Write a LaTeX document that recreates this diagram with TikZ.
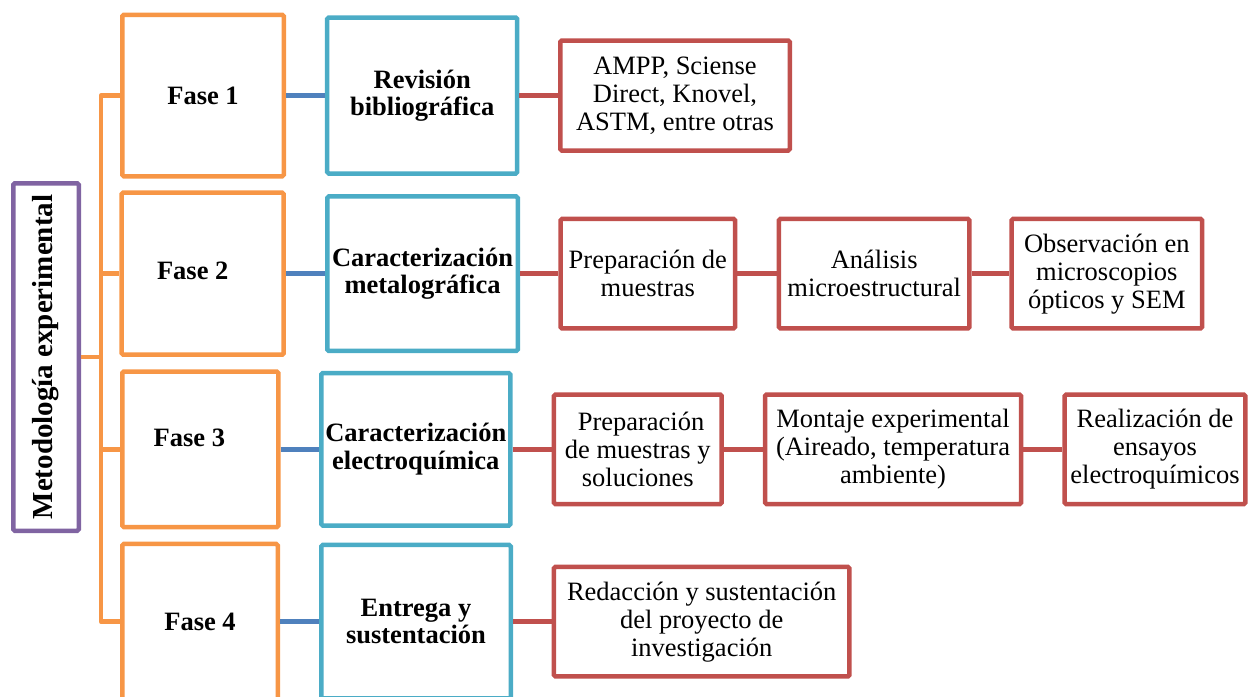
\documentclass[tikz,border=0pt]{standalone}
\usepackage{fontspec}
\setmainfont{Liberation Serif}
\definecolor{cOr}{HTML}{F79646}
\definecolor{cBl}{HTML}{4BACC6}
\definecolor{cLn}{HTML}{4F81BD}
\definecolor{cRd}{HTML}{C0504D}
\definecolor{cPu}{HTML}{8064A2}
\begin{document}
\begin{tikzpicture}[x=1pt,y=-1pt,
  box/.style={draw, line width=4.5pt, rounded corners=1.5pt, align=center, inner sep=0pt, fill=white},
  fase/.style={box, draw=cOr, font=\fontsize{26.5}{28}\selectfont\bfseries},
  bluebox/.style={box, draw=cBl, font=\fontsize{26.5}{27.5}\selectfont\bfseries},
  redbox/.style={box, draw=cRd, font=\fontsize{26.5}{28}\selectfont},
  purplebox/.style={box, draw=cPu, font=\fontsize{29}{30}\selectfont\bfseries},
  oline/.style={draw=cOr, line width=4.6pt, line join=round},
  bline/.style={draw=cLn, line width=4.5pt},
  rline/.style={draw=cRd, line width=4.5pt}
]
\useasboundingbox (0,0) rectangle (1249,696);

% left
\node[purplebox, rotate=90, minimum width=347.5pt, minimum height=65.5pt] (meto) at (46,357) {Metodología experimental};

% phases
\node[fase, minimum width=161.5pt, minimum height=161.5pt] (f1) at (203,95.5) {Fase 1};
\node[fase, minimum width=162pt, minimum height=162pt,
  label={[font=\fontsize{26.5}{28}\selectfont\bfseries, xshift=-10pt, yshift=3pt]center:Fase 2}] (f2) at (202.7,273.7) {};
\node[fase, minimum width=156pt, minimum height=155.5pt,
  label={[font=\fontsize{26.5}{28}\selectfont\bfseries, xshift=-11pt, yshift=11.5pt]center:Fase 3}] (f3) at (200.3,449.3) {};
\node[fase, minimum width=155.5pt, minimum height=155.5pt] (f4) at (200,621.7) {Fase 4};

% blue boxes
\node[bluebox, minimum width=190pt, minimum height=156pt] (b1) at (422.2,95.5) {Revisión\\bibliográfica};
\node[bluebox, minimum width=190.5pt, minimum height=154.5pt] (b2) at (422.5,273.7) {Caracterización\\metalográfica};
\node[bluebox, minimum width=189pt, minimum height=152.5pt] (b3) at (415.8,449.3) {Caracterización\\electroquímica};
\node[bluebox, minimum width=189.5pt, minimum height=153.5pt] (b4) at (416,621.7) {Entrega y\\sustentación};

% red boxes
\node[redbox, minimum width=229.5pt, minimum height=110pt] (r1) at (675,95.5) {AMPP, Sciense\\Direct, Knovel,\\ASTM, entre otras};
\node[redbox, minimum width=174.5pt, minimum height=109.5pt] (r2a) at (647.8,273.7) {Preparación de\\muestras};
\node[redbox, minimum width=190.5pt, minimum height=109.5pt] (r2b) at (874.2,273.7) {Análisis\\microestructural};
\node[redbox, minimum width=190.5pt, minimum height=109.5pt] (r2c) at (1106.8,273.7) {Observación en\\microscopios\\ópticos y SEM};
\node[redbox, minimum width=167.8pt, minimum height=109.5pt] (r3a) at (637.8,449.3) {\hspace*{6.5pt}Preparación\\de muestras y\\soluciones};
\node[redbox, minimum width=256pt, minimum height=109.5pt] (r3b) at (893,449.3) {Montaje experimental\\(Aireado, temperatura\\ambiente)};
\node[redbox, minimum width=180.7pt, minimum height=109.5pt] (r3c) at (1155,449.3) {Realización de\\ensayos\\electroquímicos};
\node[redbox, minimum width=295.5pt, minimum height=109.5pt] (r4) at (701.7,621.7) {Redacción y sustentación\\del proyecto de\\investigación};

% orange tree
\coordinate (trTop) at (101,95.5);
\coordinate (trBot) at (101,621.7);
\draw[oline] (f1.west) -- (trTop) -- (trBot) -- (f4.west);
\draw[oline] (f2.west) -- (f2.west -| trTop);
\draw[oline] (f3.west) -- (f3.west -| trTop);
\draw[oline] (meto.south) -- (meto.south -| trTop);

% blue connectors
\draw[bline] (f1.east) -- (b1.west);
\draw[bline] (f2.east) -- (b2.west);
\draw[bline] (f3.east) -- (b3.west);
\draw[bline] (f4.east) -- (b4.west);

% red connectors
\draw[rline] (b1.east) -- (r1.west);
\draw[rline] (b2.east) -- (r2a.west);
\draw[rline] (r2a.east) -- (r2b.west);
\draw[rline] (r2b.east) -- (r2c.west);
\draw[rline] (b3.east) -- (r3a.west);
\draw[rline] (r3a.east) -- (r3b.west);
\draw[rline] (r3b.east) -- (r3c.west);
\draw[rline] (b4.east) -- (r4.west);
\end{tikzpicture}
\end{document}
